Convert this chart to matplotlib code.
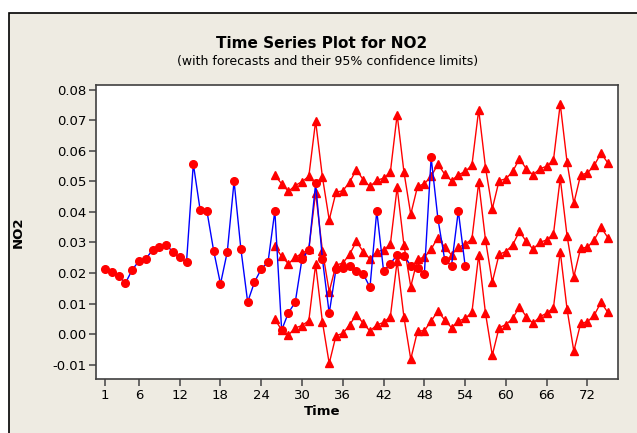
import matplotlib
matplotlib.use("Agg")
import matplotlib.pyplot as plt
from matplotlib.patches import Rectangle

plt.rcParams['axes.unicode_minus'] = False
plt.rcParams['font.family'] = ['DejaVu Sans']

# Observed NO2 series (t = 1..54)
obs_time = list(range(1, 55))
obs_no2 = [0.0213, 0.0202, 0.0191, 0.0166, 0.0210, 0.0239, 0.0246, 0.0275, 0.0286, 0.0293,
           0.0268, 0.0251, 0.0235, 0.0557, 0.0407, 0.0403, 0.0272, 0.0164, 0.0269, 0.0500,
           0.0279, 0.0105, 0.0170, 0.0213, 0.0236, 0.0403, 0.0013, 0.0070, 0.0104, 0.0246,
           0.0275, 0.0493, 0.0246, 0.0068, 0.0213, 0.0217, 0.0223, 0.0208, 0.0197, 0.0153,
           0.0403, 0.0207, 0.0230, 0.0259, 0.0257, 0.0224, 0.0217, 0.0196, 0.0578, 0.0377,
           0.0243, 0.0224, 0.0403, 0.0224]

# Forecasts and 95% limits (t = 26..75)
fc_time = list(range(26, 76))
fc_mid = [0.0287, 0.0254, 0.0230, 0.0251, 0.0264, 0.0278, 0.0463, 0.0273, 0.0139, 0.0226,
          0.0232, 0.0261, 0.0303, 0.0270, 0.0246, 0.0270, 0.0275, 0.0294, 0.0480, 0.0291,
          0.0155, 0.0246, 0.0251, 0.0278, 0.0316, 0.0284, 0.0259, 0.0284, 0.0294, 0.0311,
          0.0496, 0.0308, 0.0170, 0.0261, 0.0270, 0.0292, 0.0336, 0.0303, 0.0278, 0.0300,
          0.0308, 0.0327, 0.0510, 0.0322, 0.0188, 0.0281, 0.0284, 0.0308, 0.0349, 0.0316]
fc_upper = [0.0519, 0.0492, 0.0467, 0.0486, 0.0499, 0.0516, 0.0697, 0.0514, 0.0374, 0.0464,
            0.0469, 0.0497, 0.0538, 0.0505, 0.0483, 0.0503, 0.0510, 0.0530, 0.0718, 0.0530,
            0.0392, 0.0483, 0.0492, 0.0516, 0.0556, 0.0523, 0.0502, 0.0521, 0.0532, 0.0552,
            0.0734, 0.0545, 0.0410, 0.0502, 0.0508, 0.0532, 0.0574, 0.0541, 0.0521, 0.0541,
            0.0549, 0.0569, 0.0753, 0.0563, 0.0428, 0.0521, 0.0527, 0.0552, 0.0592, 0.0560]
fc_lower = [0.0049, 0.0013, -0.0003, 0.0020, 0.0028, 0.0044, 0.0228, 0.0040, -0.0096, -0.0005,
            0.0002, 0.0030, 0.0064, 0.0035, 0.0010, 0.0030, 0.0038, 0.0057, 0.0239, 0.0055,
            -0.0082, 0.0010, 0.0011, 0.0043, 0.0075, 0.0046, 0.0021, 0.0043, 0.0051, 0.0071,
            0.0259, 0.0068, -0.0069, 0.0021, 0.0031, 0.0051, 0.0090, 0.0057, 0.0035, 0.0057,
            0.0068, 0.0086, 0.0270, 0.0082, -0.0056, 0.0035, 0.0040, 0.0062, 0.0104, 0.0071]

x_ticks = [1, 6, 12, 18, 24, 30, 36, 42, 48, 54, 60, 66, 72]
y_ticks = [-0.01, 0.00, 0.01, 0.02, 0.03, 0.04, 0.05, 0.06, 0.07, 0.08]

W, H = 637, 433
fig = plt.figure(figsize=(W / 100, H / 100), dpi=100)
fig.patch.set_facecolor('white')
bg = '#EEEBE2'
fig.patches.append(Rectangle((9 / W, -0.1), 1.2, 1 - 13 / H + 0.1,
                             transform=fig.transFigure, facecolor=bg,
                             edgecolor='black', linewidth=1.2, zorder=-5))

ax = fig.add_axes([96 / W, 1 - 379 / H, (618 - 96) / W, (379 - 85) / H])
ax.set_zorder(2)
ax.set_facecolor('white')

for series in (fc_upper, fc_mid, fc_lower):
    ax.plot(fc_time, series, color='#FF0000', linewidth=1.0, marker='^',
            markersize=6.2, markerfacecolor='#FF0000', markeredgecolor='#FF0000', zorder=3)
ax.plot(obs_time, obs_no2, color='#0000FF', linewidth=1.0, marker='o',
        markersize=5.5, markerfacecolor='#FF0000', markeredgecolor='#FF0000', zorder=4)

ax.set_xlim(-0.32, 76.5)
ax.set_ylim(-0.0147, 0.0815)
ax.set_xticks(x_ticks)
ax.set_xticklabels([str(v) for v in x_ticks])
ax.set_yticks(y_ticks)
ax.set_yticklabels(['%.2f' % v for v in y_ticks])
ax.tick_params(direction='out', length=5, width=1.2, color='#505050',
               labelsize=9.5, labelcolor='black', pad=2)
for s in ax.spines.values():
    s.set_color('#404040')
    s.set_linewidth(1.2)

ax.set_xlabel('Time', fontsize=9.5, fontweight='bold')
ax.xaxis.set_label_coords((322 - 96) / 522, -(405 - 379) / 294)
ax.set_ylabel('NO2', fontsize=9.5, fontweight='bold')
ax.yaxis.set_label_coords(-(96 - 25) / 522, 0.5)

fig.text(322 / W, 1 - 44 / H, 'Time Series Plot for NO2', ha='center', va='center',
         fontsize=11, fontweight='bold', zorder=3)
fig.text(328 / W, 1 - 62 / H, '(with forecasts and their 95% confidence limits)',
         ha='center', va='center', fontsize=9, zorder=3)

fig.savefig('out.png', dpi=100, facecolor=fig.get_facecolor())
